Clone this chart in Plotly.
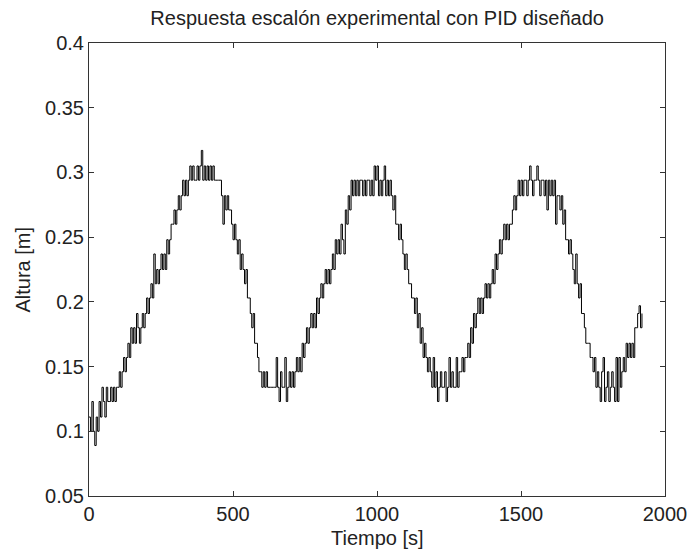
import numpy as np
import plotly.graph_objects as go

# ————————————————
# Datos (muestreo cada 5 s)
dt = 5  # [s]
altura = [
    0.111, 0.100, 0.123, 0.100, 0.089, 0.111, 0.100, 0.123, 0.111, 0.134,
    0.123, 0.111, 0.134, 0.123, 0.123, 0.134, 0.123, 0.134, 0.123, 0.134,
    0.134, 0.146, 0.134, 0.146, 0.157, 0.146, 0.157, 0.168, 0.157, 0.180,
    0.168, 0.180, 0.168, 0.191, 0.180, 0.168, 0.180, 0.191, 0.180, 0.191,
    0.203, 0.191, 0.203, 0.214, 0.203, 0.237, 0.214, 0.225, 0.214, 0.225,
    0.237, 0.225, 0.237, 0.225, 0.248, 0.237, 0.248, 0.260, 0.260, 0.271,
    0.260, 0.271, 0.282, 0.271, 0.282, 0.294, 0.282, 0.294, 0.282, 0.294,
    0.305, 0.294, 0.305, 0.294, 0.294, 0.305, 0.294, 0.305, 0.317, 0.294,
    0.305, 0.294, 0.305, 0.294, 0.305, 0.294, 0.305, 0.294, 0.294, 0.294,
    0.294, 0.294, 0.282, 0.260, 0.282, 0.271, 0.282, 0.271, 0.271, 0.260,
    0.248, 0.260, 0.248, 0.237, 0.248, 0.225, 0.237, 0.225, 0.214, 0.225,
    0.203, 0.203, 0.191, 0.180, 0.191, 0.168, 0.168, 0.157, 0.146, 0.146,
    0.134, 0.146, 0.134, 0.146, 0.134, 0.134, 0.134, 0.134, 0.134, 0.134,
    0.157, 0.134, 0.123, 0.146, 0.134, 0.134, 0.157, 0.123, 0.134, 0.146,
    0.134, 0.146, 0.134, 0.146, 0.157, 0.146, 0.157, 0.146, 0.168, 0.157,
    0.168, 0.180, 0.168, 0.180, 0.191, 0.180, 0.191, 0.180, 0.203, 0.191,
    0.203, 0.214, 0.203, 0.214, 0.225, 0.214, 0.225, 0.214, 0.225, 0.237,
    0.225, 0.248, 0.237, 0.248, 0.237, 0.260, 0.248, 0.237, 0.271, 0.260,
    0.282, 0.271, 0.294, 0.282, 0.294, 0.282, 0.294, 0.282, 0.294, 0.294,
    0.282, 0.294, 0.282, 0.294, 0.294, 0.282, 0.294, 0.282, 0.305, 0.294,
    0.305, 0.282, 0.294, 0.282, 0.294, 0.305, 0.282, 0.294, 0.282, 0.294,
    0.282, 0.271, 0.282, 0.260, 0.260, 0.248, 0.260, 0.248, 0.237, 0.225,
    0.237, 0.225, 0.214, 0.214, 0.203, 0.203, 0.191, 0.203, 0.180, 0.191,
    0.168, 0.180, 0.157, 0.168, 0.157, 0.146, 0.157, 0.146, 0.134, 0.157,
    0.134, 0.146, 0.123, 0.134, 0.146, 0.134, 0.134, 0.146, 0.123, 0.134,
    0.157, 0.134, 0.146, 0.134, 0.134, 0.157, 0.134, 0.146, 0.146, 0.157,
    0.146, 0.157, 0.157, 0.168, 0.157, 0.180, 0.168, 0.191, 0.180, 0.191,
    0.203, 0.191, 0.203, 0.191, 0.203, 0.214, 0.203, 0.214, 0.203, 0.214,
    0.225, 0.214, 0.237, 0.225, 0.237, 0.248, 0.237, 0.248, 0.260, 0.248,
    0.260, 0.248, 0.260, 0.260, 0.271, 0.282, 0.271, 0.282, 0.294, 0.282,
    0.294, 0.282, 0.294, 0.294, 0.282, 0.294, 0.305, 0.294, 0.282, 0.294,
    0.294, 0.305, 0.294, 0.282, 0.294, 0.294, 0.282, 0.294, 0.271, 0.294,
    0.282, 0.294, 0.282, 0.294, 0.260, 0.282, 0.282, 0.271, 0.282, 0.260,
    0.271, 0.248, 0.248, 0.237, 0.248, 0.237, 0.225, 0.214, 0.237, 0.214,
    0.203, 0.214, 0.191, 0.191, 0.180, 0.168, 0.168, 0.168, 0.157, 0.157,
    0.146, 0.157, 0.134, 0.146, 0.134, 0.123, 0.146, 0.157, 0.123, 0.134,
    0.146, 0.123, 0.134, 0.146, 0.134, 0.123, 0.157, 0.123, 0.157, 0.134,
    0.146, 0.157, 0.146, 0.168, 0.157, 0.168, 0.157, 0.168, 0.157, 0.180,
    0.180, 0.191, 0.197, 0.180, 0.191,
]
tiempo = np.arange(len(altura)) * dt

x_ticks = [0, 500, 1000, 1500, 2000]
y_ticks = [0.05, 0.1, 0.15, 0.2, 0.25, 0.3, 0.35, 0.4]
y_labels = ["0.05", "0.1", "0.15", "0.2", "0.25", "0.3", "0.35", "0.4"]

FONT = "Liberation Sans, Arial, sans-serif"
EJE = "#333333"
TEXTO = "#222222"

fig = go.Figure()
fig.add_trace(go.Scatter(
    x=tiempo, y=altura, mode="lines",
    line=dict(color="black", width=1, shape="hv"),
    showlegend=False,
))

eje_comun = dict(
    showline=True, linecolor=EJE, linewidth=1, mirror="ticks",
    ticks="inside", ticklen=5, tickcolor=EJE,
    showgrid=False, zeroline=False, automargin=False,
    tickfont=dict(family=FONT, size=20, color=TEXTO),
)

fig.update_layout(
    width=692, height=554,
    margin=dict(l=89, r=27, t=43, b=58),
    paper_bgcolor="white", plot_bgcolor="white",
    title=dict(
        text="Respuesta escalón experimental con PID diseñado",
        x=0.545, xanchor="center", y=1 - 18 / 554, yanchor="middle",
        font=dict(family=FONT, size=20, color=TEXTO),
    ),
    xaxis=dict(range=[0, 2000], tickvals=x_ticks, **eje_comun),
    yaxis=dict(range=[0.05, 0.4], tickvals=y_ticks, ticktext=y_labels, **eje_comun),
)

# títulos de los ejes
fig.add_annotation(
    text="Tiempo [s]", xref="paper", yref="paper", x=0.5, y=-42 / 453,
    xanchor="center", yanchor="middle", showarrow=False,
    font=dict(family=FONT, size=20, color=TEXTO),
)
fig.add_annotation(
    text="Altura [m]", xref="paper", yref="paper", x=-67 / 576, y=0.5,
    xanchor="center", yanchor="middle", showarrow=False, textangle=-90,
    font=dict(family=FONT, size=20, color=TEXTO),
)

# sin margen del <body> para que la figura quede en (0, 0)
fig.write_html(
    "out.html",
    config={"displayModeBar": False},
    post_script="document.body.style.margin='0';document.body.style.overflow='hidden';",
)
